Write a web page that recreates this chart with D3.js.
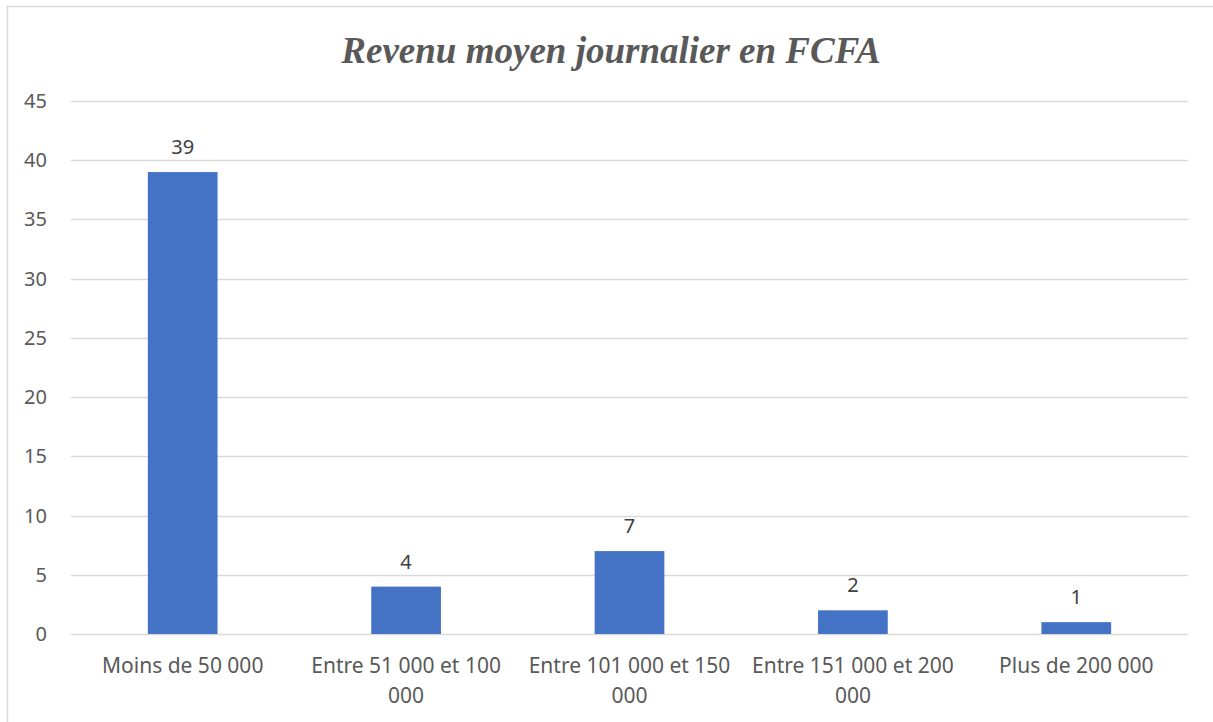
<!DOCTYPE html>
<html>
<head>
<meta charset="utf-8">
<script src="https://cdn.jsdelivr.net/npm/d3@7"></script>
<style>
  body { margin: 0; background: #fff; }
  svg { display: block; }
</style>
</head>
<body>
<svg id="chart" width="1213" height="722"></svg>
<script>
const categories = [
  ['Moins de 50 000'],
  ['Entre 51 000 et 100', '000'],
  ['Entre 101 000 et 150', '000'],
  ['Entre 151 000 et 200', '000'],
  ['Plus de 200 000']
];
const values = [39, 4, 7, 2, 1];
const yTicks = [0, 5, 10, 15, 20, 25, 30, 35, 40, 45];
const title = 'Revenu moyen journalier en FCFA';

const svg = d3.select('#chart');
const plotLeft = 71, plotRight = 1188, plotTop = 101, plotBottom = 634;
const labelFont = "'Noto Sans', 'Open Sans', sans-serif";

// outer border of the chart area
svg.append('rect')
  .attr('x', 7.5).attr('y', 6.5)
  .attr('width', 1230).attr('height', 740)
  .attr('fill', 'none').attr('stroke', '#d9d9d9').attr('stroke-width', 1.5);

const x = d3.scaleBand()
  .domain(d3.range(values.length))
  .range([plotLeft, plotRight])
  .paddingInner(0.688)
  .paddingOuter(0.344);

const y = d3.scaleLinear().domain([0, 45]).range([plotBottom, plotTop]);

// gridlines
svg.append('g').selectAll('line').data(yTicks).join('line')
  .attr('x1', plotLeft).attr('x2', plotRight)
  .attr('y1', (d) => Math.round(y(d)) + 0.5).attr('y2', (d) => Math.round(y(d)) + 0.5)
  .attr('stroke', '#d9d9d9').attr('stroke-width', 1.5);

// y tick labels
svg.append('g').selectAll('text').data(yTicks).join('text')
  .attr('x', 47).attr('y', (d) => y(d))
  .attr('dy', '0.35em')
  .attr('text-anchor', 'end')
  .attr('font-family', labelFont).attr('font-size', 20)
  .attr('fill', '#595959')
  .text((d) => d);

// bars
svg.append('g').selectAll('rect').data(values).join('rect')
  .attr('x', (d, i) => x(i))
  .attr('y', (d) => y(d))
  .attr('width', x.bandwidth())
  .attr('height', (d) => y(0) - y(d))
  .attr('fill', '#4472c4');

// data labels
svg.append('g').selectAll('text').data(values).join('text')
  .attr('x', (d, i) => x(i) + x.bandwidth() / 2)
  .attr('y', (d) => y(d) - 18)
  .attr('text-anchor', 'middle')
  .attr('font-family', labelFont).attr('font-size', 20)
  .attr('fill', '#404040')
  .text((d) => d);

// category labels
const cat = svg.append('g').selectAll('text').data(categories).join('text')
  .attr('x', (d, i) => x(i) + x.bandwidth() / 2)
  .attr('y', 673)
  .attr('text-anchor', 'middle')
  .attr('font-family', labelFont).attr('font-size', 21)
  .attr('fill', '#595959');
cat.selectAll('tspan').data((d) => d).join('tspan')
  .attr('x', function () { return this.parentNode.getAttribute('x'); })
  .attr('dy', (d, i) => (i === 0 ? 0 : 30))
  .text((d) => d);

// title
svg.append('text')
  .attr('x', 611).attr('y', 63)
  .attr('text-anchor', 'middle')
  .attr('font-family', "'Liberation Serif', 'Times New Roman', serif")
  .attr('font-style', 'italic').attr('font-weight', 'bold')
  .attr('font-size', 37)
  .attr('fill', '#595959')
  .text(title);
</script>
</body>
</html>
